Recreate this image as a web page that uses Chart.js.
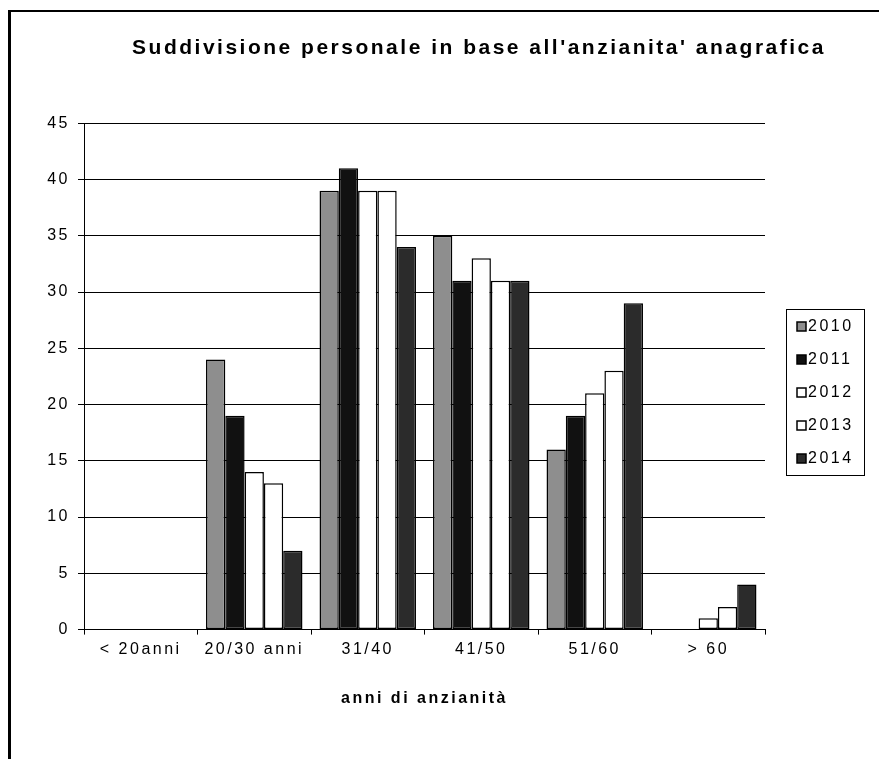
<!DOCTYPE html>
<html lang="it">
<head>
  <meta charset="UTF-8">
  <title>Suddivisione personale</title>
  <script src="https://cdn.jsdelivr.net/npm/chart.js"></script>
  <style>
    body { margin: 0; background: #fff; }
    canvas { display: block; }
  </style>
</head>
<body>
  <canvas id="chart" width="879" height="759"></canvas>

  <script>
    // categorie (asse x) e valori per anno
    const categories = ['< 20anni', '20/30 anni', '31/40', '41/50', '51/60', '> 60'];
    const years = ['2010', '2011', '2012', '2013', '2014'];
    const v2010 = [0, 24, 39, 35, 16, 0];
    const v2011 = [0, 19, 41, 31, 19, 0];
    const v2012 = [0, 14, 39, 33, 21, 1];
    const v2013 = [0, 13, 39, 31, 23, 2];
    const v2014 = [0, 7, 34, 31, 29, 4];
    const yMax = 45;
    const yStep = 5;

    const fills = ['#8e8e8e', '#111111', '#ffffff', '#ffffff', '#2b2b2b'];
    const FONT = 'Liberation Sans, Arial, sans-serif';

    const series = [v2010, v2011, v2012, v2013, v2014];

    // spaziatura lettere, come nel fax originale
    const spacing = {
      id: 'spacing',
      beforeUpdate(chart) { chart.ctx.letterSpacing = '2.5px'; },
      afterLayout(chart) {
        // il titolo nell'originale e' spostato a destra
        chart.titleBlock.left = 100;
        chart.titleBlock.right = 858;
      },
      beforeDraw(chart) {
        const ctx = chart.ctx;
        ctx.letterSpacing = '2.5px';
        ctx.save();
        ctx.fillStyle = '#fff';
        ctx.fillRect(0, 0, chart.width, chart.height);
        ctx.restore();
      }
    };

    // cornice esterna e legenda con bordo
    const frameLegend = {
      id: 'frameLegend',
      afterDraw(chart) {
        const ctx = chart.ctx;
        const area = chart.chartArea;
        ctx.save();
        ctx.strokeStyle = '#000';
        ctx.lineWidth = 3;
        ctx.beginPath();
        ctx.moveTo(9.5, 10);
        ctx.lineTo(9.5, chart.height);
        ctx.stroke();
        ctx.lineWidth = 2;
        ctx.beginPath();
        ctx.moveTo(8, 11);
        ctx.lineTo(chart.width, 11);
        ctx.stroke();

        const bx = area.right + 21;
        const by = 309;
        const bw = 78;
        const bh = 166;
        ctx.lineWidth = 1;
        ctx.strokeRect(bx + 0.5, by + 0.5, bw, bh);

        ctx.font = '16px ' + FONT;
        ctx.textBaseline = 'middle';
        chart.data.datasets.forEach((ds, i) => {
          const cy = by + 17 + i * 33;
          ctx.fillStyle = ds.backgroundColor;
          ctx.fillRect(bx + 11, cy - 4, 9, 9);
          ctx.lineWidth = 1.5;
          ctx.strokeRect(bx + 11, cy - 4, 9, 9);
          ctx.fillStyle = '#000';
          ctx.fillText(ds.label, bx + 22, cy + 1);
        });
        ctx.restore();
      }
    };

    new Chart(document.getElementById('chart'), {
      type: 'bar',
      data: {
        labels: categories,
        datasets: years.map((y, i) => ({
          label: y,
          data: series[i],
          backgroundColor: fills[i],
          borderColor: '#000',
          borderWidth: 1.5,
          borderSkipped: false,
          categoryPercentage: 0.85,
          barPercentage: 1.0
        }))
      },
      options: {
        responsive: false,
        animation: false,
        layout: { padding: { left: 0, top: 0, right: 114, bottom: 47 } },
        plugins: {
          legend: { display: false },
          tooltip: { enabled: false },
          title: {
            display: true,
            text: "Suddivisione personale in base all'anzianita' anagrafica",
            color: '#000',
            font: { family: FONT, size: 21, weight: 'bold' },
            padding: { top: 36, bottom: 62 }
          }
        },
        scales: {
          x: {
            grid: {
              display: true,
              drawOnChartArea: false,
              drawTicks: true,
              tickLength: 5,
              color: '#000'
            },
            border: { color: '#000', width: 1 },
            ticks: {
              color: '#000',
              font: { family: FONT, size: 16 },
              padding: 5,
              maxRotation: 0
            },
            title: {
              display: true,
              text: 'anni di anzianità',
              color: '#000',
              font: { family: FONT, size: 16, weight: 'bold' },
              padding: { top: 25, bottom: 4 }
            }
          },
          y: {
            min: 0,
            max: yMax,
            afterFit(scale) { scale.width = 84; },
            grid: { color: '#000', tickLength: 6 },
            border: { color: '#000', width: 1 },
            ticks: {
              stepSize: yStep,
              color: '#000',
              font: { family: FONT, size: 16 },
              padding: 8
            }
          }
        }
      },
      plugins: [spacing, frameLegend]
    });
  </script>
</body>
</html>
